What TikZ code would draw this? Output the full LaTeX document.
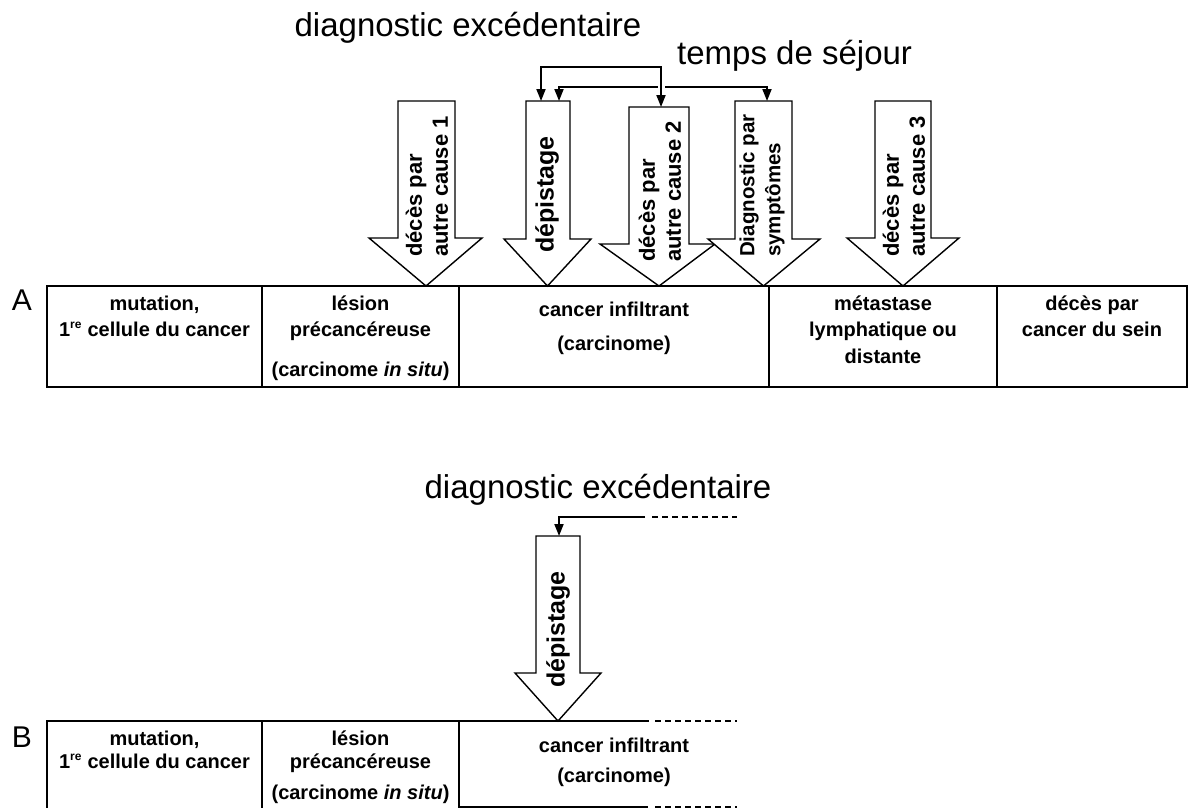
\documentclass[tikz,border=0pt]{standalone}
\usepackage{fontspec}
\setmainfont{Liberation Sans}
\usetikzlibrary{arrows.meta}

% block arrow pointing down: shaft left/right, shaft top, head left/right, head base, tip x, tip y
\newcommand{\downblock}[8]{%
  \draw[blockarrow] (#1,#3) -- (#2,#3) -- (#2,#6) -- (#5,#6) -- (#7,#8) -- (#4,#6) -- (#1,#6) -- cycle;}

% text of the first three stages: #1 = top of the row, #2 = row tag,
% #3 = offset of the second line, #4 = offset of the "in situ" line,
% #5 / #6 = offsets of the two infiltrant lines
\newcommand{\stagetexts}[6]{%
  \node[stage] (#2-mut1) at (154.5,#1+24) {mutation,};
  \node[stage] (#2-mut2) at (154.5,#1+#3) {1\textsuperscript{\fontsize{12}{12}\selectfont re} cellule du cancer};
  \node[stage] (#2-les1) at (360.5,#1+24) {lésion};
  \node[stage] (#2-les2) at (360.5,#1+#3) {précancéreuse};
  \node[stage] (#2-les3) at (360.5,#1+#4) {(carcinome \textit{in situ})};
  \node[stage] (#2-inf1) at (614,#1+#5) {cancer infiltrant};
  \node[stage] (#2-inf2) at (614,#1+#6) {(carcinome)};
}

\begin{document}
\begin{tikzpicture}[x=1pt,y=-1pt,
  stage/.style={font=\bfseries\fontsize{20}{24}\selectfont, inner sep=0pt, anchor=base},
  bigtxt/.style={font=\fontsize{33}{38}\selectfont, inner sep=0pt},
  rowlbl/.style={font=\fontsize{30}{34}\selectfont, inner sep=0pt},
  blockarrow/.style={draw=black, fill=white, line width=1.4pt, line join=miter},
  arrowtxt/.style={font=\bfseries\fontsize{22}{26}\selectfont, rotate=90, anchor=west,
                   align=left, inner sep=0pt},
  boxline/.style={line width=2.6pt, line cap=rect},
  bracket/.style={line width=1.8pt, arrows={-}, >={Triangle[length=12pt,width=9pt]}},
  halo/.style={preaction={draw=white, line width=7pt, arrows={-}}},
  dashline/.style={line width=2pt, dash pattern=on 6pt off 4pt}
]
\fill[white] (0,0) rectangle (1193,807);
\clip (0,0) rectangle (1193,807);

% ---------------- row A ----------------
\node[bigtxt] (excA) at (468,28) {diagnostic excédentaire};
\node[bigtxt, anchor=west] (sejour) at (677,56) {temps de séjour};

\coordinate (exc-lvl) at (0,67);
\coordinate (sej-lvl) at (0,87);
\coordinate (depA-in1) at (541,101);
\coordinate (depA-in2) at (559,101);
\coordinate (dc2-in) at (661,107);
\coordinate (diag-in) at (767,101);

% time brackets
\draw[bracket, <->] (depA-in2) -- (depA-in2 |- sej-lvl) -| (diag-in);
\draw[bracket, halo, <->] (depA-in1) -- (depA-in1 |- exc-lvl) -| (dc2-in);

% events along the course of the disease
\downblock{398}{455}{101}{369}{482}{238}{426}{286}
\node[arrowtxt] (t-dc1) at (427,257) {décès par\\autre cause 1};

\downblock{526}{570}{101}{504}{591}{239}{547.5}{286}
\node[arrowtxt, font=\bfseries\fontsize{25}{28}\selectfont] (t-depA) at (547,253) {dépistage};

\downblock{629}{689}{107}{600}{715}{244}{659}{286}
\node[arrowtxt] (t-dc2) at (660,262) {décès par\\autre cause 2};

\downblock{735}{792}{101}{708}{820}{239}{763.5}{286}
\node[arrowtxt, font=\bfseries\fontsize{20.5}{26}\selectfont] (t-diag) at (762,257) {Diagnostic par\\symptômes};

\downblock{875}{931}{101}{847}{959}{238}{903}{286}
\node[arrowtxt] (t-dc3) at (904,257) {décès par\\autre cause 3};

% stages
\node[rowlbl] (lblA) at (22,300) {A};
\draw[boxline] (47,286) rectangle (1187,387);
\foreach \xd in {262,459,769,997} \draw[boxline] (\xd,286) -- (\xd,387);
\stagetexts{286}{A}{50}{90}{30}{64}
\node[stage] (A-met1) at (883,310) {métastase};
\node[stage] (A-met2) at (883,336) {lymphatique ou};
\node[stage] (A-met3) at (883,363) {distante};
\node[stage] (A-dec1) at (1092,310) {décès par};
\node[stage] (A-dec2) at (1092,336) {cancer du sein};

% ---------------- row B ----------------
\node[bigtxt] (excB) at (598,490) {diagnostic excédentaire};
\coordinate (bk-start) at (645,517);
\coordinate (bk-dash-a) at (652,517);
\coordinate (bk-dash-b) at (737,517);
\coordinate (depB-in) at (559,536);
\draw[bracket, ->] (bk-start) -| (depB-in);
\draw[dashline] (bk-dash-a) -- (bk-dash-b);

\downblock{536}{580}{536}{515}{601}{673}{558}{721}
\node[arrowtxt, font=\bfseries\fontsize{25}{28}\selectfont] (t-depB) at (558,688) {dépistage};

\node[rowlbl] (lblB) at (22,737) {B};
\draw[boxline] (47,815) -- (47,721) -- (648,721);
\foreach \xd in {262,459} \draw[boxline] (\xd,721) -- (\xd,815);
\draw[line width=1.6pt] (459,807) -- (648,807);
\draw[dashline] (655,721) -- (737,721);
\draw[dashline, line width=1.6pt] (655,807) -- (737,807);
\stagetexts{721}{B}{47}{78}{31}{61}
\end{tikzpicture}
\end{document}
